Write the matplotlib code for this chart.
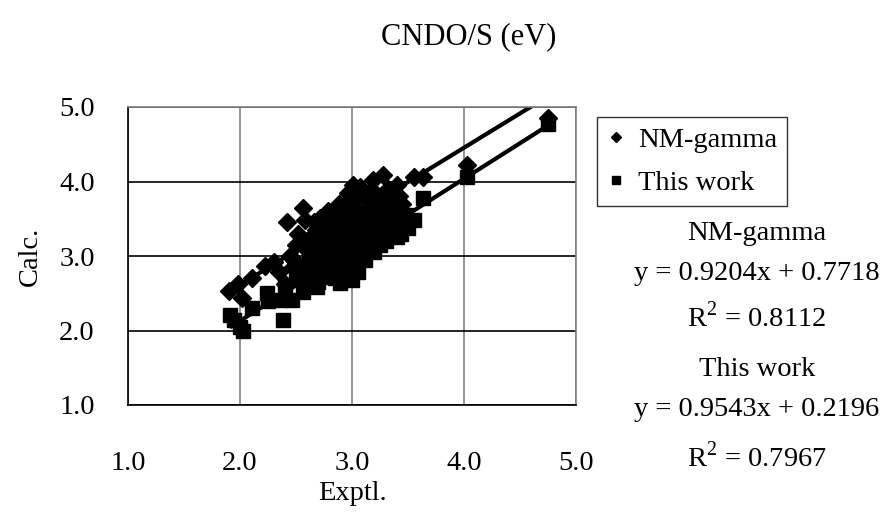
import numpy as np
import matplotlib
matplotlib.use("Agg")
import matplotlib.pyplot as plt

plt.rcParams['font.family'] = ['Liberation Serif', 'DejaVu Serif']
plt.rcParams['mathtext.fontset'] = 'custom'
plt.rcParams['mathtext.rm'] = 'Liberation Serif'

# NM-gamma (diamonds)
nm_x = [1.90, 1.98, 2.02, 2.11, 2.22, 2.30, 2.35, 2.40, 2.42, 2.45, 2.48, 2.50,
        2.55, 2.56, 2.58, 2.60, 2.62, 2.65, 2.68, 2.71, 2.72, 2.75, 2.78, 2.80,
        2.82, 2.85, 2.85, 2.88, 2.90, 2.92, 2.95, 2.96, 2.97, 3.00, 3.00, 3.02,
        3.05, 3.07, 3.08, 3.10, 3.10, 3.12, 3.15, 3.17, 3.19, 3.20, 3.22, 3.25,
        3.28, 3.30, 3.32, 3.35, 3.38, 3.40, 3.42, 3.45, 3.55, 3.63, 4.03, 4.75,
        2.52, 2.58, 2.64, 2.70, 2.76, 2.83, 2.88, 2.93, 2.99, 3.04, 3.13, 3.24,
        3.34, 2.47, 2.66, 2.79, 2.91, 3.01, 3.18, 3.27]
nm_y = [2.53, 2.62, 2.44, 2.70, 2.86, 2.92, 2.78, 2.62, 3.46, 3.00, 2.95, 3.15,
        2.75, 3.64, 3.48, 3.20, 3.05, 2.95, 3.35, 3.51, 3.20, 3.40, 3.10, 3.45,
        3.30, 3.55, 3.00, 3.25, 3.60, 3.40, 3.70, 3.85, 3.20, 3.50, 3.10, 3.75,
        3.60, 3.93, 3.45, 3.80, 3.20, 3.30, 3.65, 3.50, 4.02, 3.85, 3.40, 3.70,
        4.09, 3.55, 3.90, 3.75, 3.60, 3.95, 3.80, 3.70, 4.06, 4.06, 4.22, 4.85,
        3.30, 3.12, 3.25, 3.10, 3.28, 3.42, 3.70, 3.52, 3.65, 3.40, 3.75, 3.55,
        3.62, 2.85, 3.45, 3.60, 3.15, 3.95, 3.88, 3.82]

# This work (squares)
tw_x = [1.91, 1.95, 2.00, 2.03, 2.11, 2.24, 2.25, 2.36, 2.38, 2.40, 2.46, 2.50,
        2.56, 2.58, 2.60, 2.65, 2.68, 2.69, 2.70, 2.72, 2.75, 2.80, 2.82, 2.85,
        2.88, 2.89, 2.90, 2.92, 2.95, 3.00, 3.00, 3.00, 3.02, 3.05, 3.05, 3.08,
        3.10, 3.12, 3.15, 3.15, 3.18, 3.20, 3.22, 3.25, 3.25, 3.28, 3.30, 3.32,
        3.35, 3.38, 3.40, 3.42, 3.45, 3.48, 3.50, 3.55, 3.63, 4.03, 4.75,
        2.62, 2.77, 2.84, 2.97, 3.06, 3.14, 3.23, 3.36, 3.44, 2.53, 2.93, 3.11,
        3.19, 3.29, 2.66, 2.79]
tw_y = [2.21, 2.14, 2.05, 2.00, 2.30, 2.50, 2.40, 2.41, 2.14, 2.60, 2.41, 2.70,
        2.52, 2.85, 2.62, 2.75, 2.90, 2.58, 2.65, 3.00, 2.72, 2.85, 3.10, 2.70,
        2.95, 2.64, 3.20, 2.78, 3.00, 2.68, 2.88, 3.30, 3.10, 2.78, 3.45, 3.00,
        3.25, 2.94, 3.40, 3.10, 3.55, 3.05, 3.30, 3.60, 3.15, 3.45, 3.20, 3.70,
        3.35, 3.50, 3.25, 3.65, 3.40, 3.55, 3.38, 3.48, 3.78, 4.06, 4.77,
        2.98, 3.18, 2.95, 3.15, 3.02, 3.22, 3.42, 3.55, 3.30, 2.80, 2.85, 3.50,
        3.35, 3.58, 2.80, 2.92]

nm_fit = (0.9204, 0.7718, 0.8112)
tw_fit = (0.9543, 0.2196, 0.7967)

fs = 20.5

fig = plt.figure(figsize=(8.89, 5.21), dpi=100)
ax = fig.add_axes([128/889, 116/521, 448/889, 298/521])

ax.plot(nm_x, nm_y, ls='none', marker='D', ms=9, color='black', label='NM-gamma')
ax.plot(tw_x, tw_y, ls='none', marker='s', ms=10, color='black', label='This work')

for xs, (a, b, r2) in [(nm_x, nm_fit), (tw_x, tw_fit)]:
    xx = np.array([min(xs), max(xs)])
    ax.plot(xx, a*xx + b, color='black', lw=3.0, solid_capstyle='butt')

ax.set_xlim(1, 5); ax.set_ylim(1, 5)
ax.set_xticks([1, 2, 3, 4, 5]); ax.set_yticks([1, 2, 3, 4, 5])
ax.set_xticklabels(['1.0', '2.0', '3.0', '4.0', '5.0'])
ax.set_yticklabels(['1.0', '2.0', '3.0', '4.0', '5.0'])
ax.tick_params(length=0, labelsize=fs)
ax.tick_params(axis='x', pad=33)
ax.tick_params(axis='y', pad=24)
ax.xaxis.grid(True, color='#808080', lw=1.2)
ax.yaxis.grid(True, color='black', lw=1.2)
ax.set_axisbelow(True)
for s in ['top', 'right']:
    ax.spines[s].set_color('#808080')
for s in ax.spines.values():
    s.set_linewidth(1.2)

fig.text(352/889, 1 - 493/521, 'Exptl.', fontsize=fs, ha='center', va='center')
fig.text(30/889, 1 - 256/521, 'Calc.', rotation=90, fontsize=fs, ha='center', va='center')
fig.text(469/889, 1 - 37/521, 'CNDO/S (eV)', fontsize=22, ha='center', va='center')

leg = ax.legend(loc='upper left', bbox_to_anchor=(597/889, 1 - 117/521),
                bbox_transform=fig.transFigure, fontsize=fs, frameon=True,
                fancybox=False, borderaxespad=0, handlelength=0.6,
                handletextpad=0.5, markerscale=0.55, borderpad=0.35,
                labelspacing=0.6)
leg.get_frame().set_edgecolor('black')
leg.get_frame().set_linewidth(1.0)

lines = ['NM-gamma', 'y = %.4fx + %.4f' % nm_fit[:2], r'R$^{2}$ = %.4f' % nm_fit[2],
         'This work', 'y = %.4fx + %.4f' % tw_fit[:2], r'R$^{2}$ = %.4f' % tw_fit[2]]
ys = [233, 273, 317, 370, 410, 457]
for t, yy in zip(lines, ys):
    fig.text(757/889, 1 - yy/521, t, fontsize=fs, ha='center', va='center')

fig.savefig('out.png', dpi=100)
